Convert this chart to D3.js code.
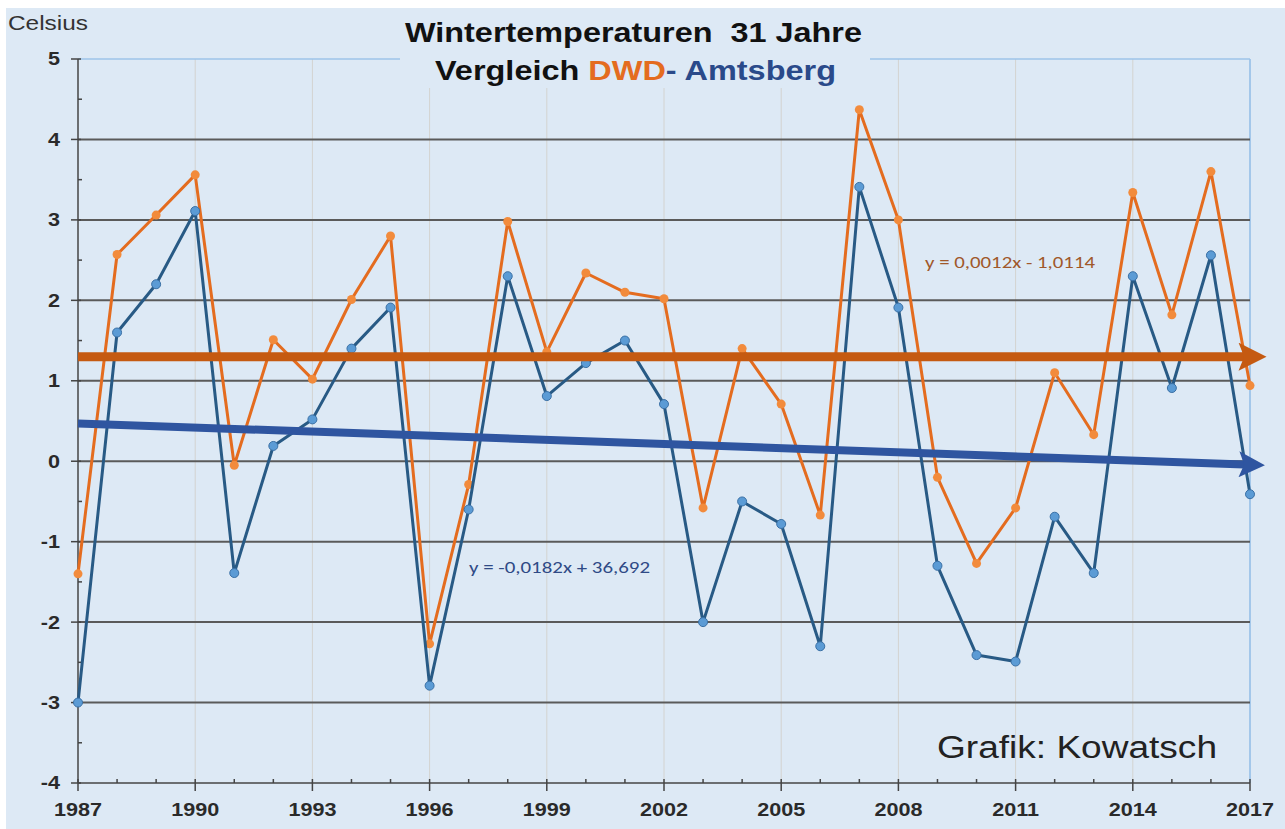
<!DOCTYPE html>
<html>
<head>
<meta charset="utf-8">
<script src="https://cdn.jsdelivr.net/npm/d3@7"></script>
<style>
  body { margin: 0; background: #fff; }
  svg { display: block; font-family: "Liberation Sans", Arial, sans-serif; }
</style>
</head>
<body>
<svg width="1285" height="829"></svg>
<script>
// winter temperatures, DWD vs Amtsberg
var years = d3.range(1987, 2018);
var dwd = [-1.40, 2.57, 3.06, 3.56, -0.05, 1.51, 1.02, 2.01, 2.80, -2.27,
           -0.29, 2.98, 1.36, 2.34, 2.10, 2.02, -0.58, 1.40, 0.71, -0.67,
           4.37, 3.00, -0.20, -1.27, -0.58, 1.10, 0.33, 3.34, 1.82, 3.60, 0.94];
var amtsberg = [-3.00, 1.60, 2.20, 3.11, -1.39, 0.19, 0.52, 1.40, 1.91, -2.79,
                -0.60, 2.30, 0.81, 1.22, 1.50, 0.71, -2.00, -0.50, -0.78, -2.30,
                3.41, 1.91, -1.30, -2.41, -2.49, -0.69, -1.39, 2.30, 0.91, 2.56, -0.41];
var xTicks = [1987, 1990, 1993, 1996, 1999, 2002, 2005, 2008, 2011, 2014, 2017];
var yTicks = [5, 4, 3, 2, 1, 0, -1, -2, -3, -4];
// hand drawn trend arrows: [start year, end year] and [start value, end value]
var arrowYears = [1987, 2016.85];
var dwdArrow = [1.30, 1.30];
var amtArrow = [0.47, -0.04];

var svg = d3.select("svg"),
    margin = {top: 59, right: 35, bottom: 46, left: 78},
    width = 1285 - margin.left - margin.right,
    height = 829 - margin.top - margin.bottom;

var x = d3.scaleLinear().domain([1987, 2017]).range([margin.left, margin.left + width]),
    y = d3.scaleLinear().domain([-4, 5]).range([margin.top + height, margin.top]);

var defs = svg.append("defs");
function marker(id, color, w, h) {
  defs.append("marker")
      .attr("id", id)
      .attr("viewBox", "0 0 10 10")
      .attr("refX", 2).attr("refY", 5)
      .attr("markerUnits", "userSpaceOnUse")
      .attr("markerWidth", w).attr("markerHeight", h)
      .attr("orient", "auto")
    .append("path")
      .attr("d", "M0,0 L10,5 L0,10 L2,5 Z")
      .attr("fill", color);
}
marker("arrO", "#c55a11", 34, 28);
marker("arrB", "#2f55a0", 30, 26);

// the source picture is stretched sideways, so text is widened a bit
var STRETCH = 1.2;

// background
svg.append("rect")
    .attr("x", 6).attr("y", 8)
    .attr("width", 1279).attr("height", 821)
    .attr("fill", "#dde9f5");

// vertical grid
svg.append("g").selectAll("line")
  .data(xTicks.slice(1))
  .enter().append("line")
    .attr("x1", function(d) { return x(d); })
    .attr("x2", function(d) { return x(d); })
    .attr("y1", y(5)).attr("y2", y(-4))
    .attr("stroke", function(d) { return d === 2017 ? "#8fbbe6" : "#d3d3d0"; })
    .attr("stroke-width", function(d) { return d === 2017 ? 1.5 : 1; });

// horizontal grid
svg.append("g").selectAll("line")
  .data(yTicks.filter(function(d) { return d !== -4; }))
  .enter().append("line")
    .attr("x1", x(1987)).attr("x2", x(2017))
    .attr("y1", function(d) { return y(d); })
    .attr("y2", function(d) { return y(d); })
    .attr("stroke", function(d) { return d === 5 ? "#9cc3e8" : "#5a5a5a"; })
    .attr("stroke-width", function(d) { return d === 5 ? 1.5 : 2; });

// y axis
var yAxis = svg.append("g")
    .attr("transform", "translate(" + x(1987) + ",0)");
yAxis.append("line")
    .attr("y1", y(5)).attr("y2", y(-4))
    .attr("stroke", "#444").attr("stroke-width", 1.5);
yAxis.selectAll(".maj")
  .data(yTicks)
  .enter().append("line")
    .attr("x1", -7).attr("x2", 3)
    .attr("y1", function(d) { return y(d); })
    .attr("y2", function(d) { return y(d); })
    .attr("stroke", "#444").attr("stroke-width", 1.5);
yAxis.selectAll(".min")
  .data(d3.range(-3.5, 5, 1))
  .enter().append("line")
    .attr("x1", 0).attr("x2", 4)
    .attr("y1", function(d) { return y(d); })
    .attr("y2", function(d) { return y(d); })
    .attr("stroke", "#444").attr("stroke-width", 1.5);
yAxis.selectAll("text")
  .data(yTicks)
  .enter().append("text")
    .attr("transform", function(d) { return "translate(-18," + y(d) + ") scale(" + STRETCH + ",1)"; })
    .attr("dy", "0.36em")
    .attr("text-anchor", "end")
    .style("font", "bold 18px 'Liberation Sans', Arial, sans-serif")
    .attr("fill", "#2a2a2a")
    .text(function(d) { return d; });

// x axis
var xAxis = svg.append("g")
    .attr("transform", "translate(0," + y(-4) + ")");
xAxis.append("line")
    .attr("x1", x(1987)).attr("x2", x(2017))
    .attr("stroke", "#444").attr("stroke-width", 1.5);
xAxis.selectAll(".min")
  .data(years)
  .enter().append("line")
    .attr("x1", function(d) { return x(d); })
    .attr("x2", function(d) { return x(d); })
    .attr("y1", -4)
    .attr("y2", function(d) { return (d - 1987) % 3 === 0 ? 8 : 0; })
    .attr("stroke", "#444").attr("stroke-width", 1.5);
xAxis.selectAll("text")
  .data(xTicks)
  .enter().append("text")
    .attr("transform", function(d) { return "translate(" + x(d) + ",33) scale(" + STRETCH + ",1)"; })
    .attr("text-anchor", "middle")
    .style("font", "bold 18px 'Liberation Sans', Arial, sans-serif")
    .attr("fill", "#2a2a2a")
    .text(function(d) { return d; });

// title box covers the top grid line
svg.append("rect")
    .attr("x", 400).attr("y", 8)
    .attr("width", 470).attr("height", 80)
    .attr("fill", "#dde9f5");

var title = svg.append("g")
    .style("font", "bold 28px 'Liberation Sans', Arial, sans-serif");
title.append("text")
    .attr("x", 405).attr("y", 42)
    .attr("textLength", 457)
    .attr("lengthAdjust", "spacingAndGlyphs")
    .attr("fill", "#111")
    .text("Wintertemperaturen\u00a0\u00a031 Jahre");
var t2 = title.append("text")
    .attr("x", 435).attr("y", 80)
    .attr("textLength", 401)
    .attr("lengthAdjust", "spacingAndGlyphs");
t2.append("tspan").attr("fill", "#111").text("Vergleich ");
t2.append("tspan").attr("fill", "#e46c1f").text("DWD");
t2.append("tspan").attr("fill", "#2a4a8a").text("- Amtsberg");

svg.append("text")
    .attr("x", 8).attr("y", 30)
    .attr("textLength", 80)
    .attr("lengthAdjust", "spacingAndGlyphs")
    .style("font", "21px 'Liberation Sans', Arial, sans-serif")
    .attr("fill", "#333")
    .text("Celsius");

// series lines
var line = d3.line()
    .x(function(d, i) { return x(years[i]); })
    .y(function(d) { return y(d); });

svg.append("path")
    .attr("d", line(dwd))
    .attr("fill", "none")
    .attr("stroke", "#e46c1f")
    .attr("stroke-width", 3)
    .attr("stroke-linejoin", "round");
svg.append("g").selectAll("circle")
  .data(dwd)
  .enter().append("circle")
    .attr("cx", function(d, i) { return x(years[i]); })
    .attr("cy", function(d) { return y(d); })
    .attr("r", 4.5)
    .attr("fill", "#f28b3c");

svg.append("path")
    .attr("d", line(amtsberg))
    .attr("fill", "none")
    .attr("stroke", "#285a85")
    .attr("stroke-width", 3)
    .attr("stroke-linejoin", "round");
svg.append("g").selectAll("circle")
  .data(amtsberg)
  .enter().append("circle")
    .attr("cx", function(d, i) { return x(years[i]); })
    .attr("cy", function(d) { return y(d); })
    .attr("r", 4.5)
    .attr("fill", "#5b9bd5")
    .attr("stroke", "#3a70a5")
    .attr("stroke-width", 1);

// trend arrows
var arrowLine = d3.line()
    .x(function(d, i) { return x(arrowYears[i]); })
    .y(function(d) { return y(d); });

svg.append("path")
    .attr("d", arrowLine(dwdArrow))
    .attr("stroke", "#c55a11")
    .attr("stroke-width", 9)
    .attr("fill", "none")
    .attr("marker-end", "url(#arrO)");

svg.append("path")
    .attr("d", arrowLine(amtArrow))
    .attr("stroke", "#2f55a0")
    .attr("stroke-width", 8)
    .attr("fill", "none")
    .attr("marker-end", "url(#arrB)");

// trend equations
svg.append("text")
    .attr("x", 925).attr("y", 268)
    .attr("textLength", 170)
    .attr("lengthAdjust", "spacingAndGlyphs")
    .style("font", "16px Carlito, 'Liberation Sans', sans-serif")
    .attr("fill", "#a0582a")
    .text("y = 0,0012x - 1,0114");
svg.append("text")
    .attr("x", 469).attr("y", 573)
    .attr("textLength", 181)
    .attr("lengthAdjust", "spacingAndGlyphs")
    .style("font", "16px Carlito, 'Liberation Sans', sans-serif")
    .attr("fill", "#2f4a86")
    .text("y = -0,0182x + 36,692");

svg.append("text")
    .attr("x", 937).attr("y", 758)
    .attr("textLength", 280)
    .attr("lengthAdjust", "spacingAndGlyphs")
    .style("font", "31px 'Liberation Sans', Arial, sans-serif")
    .attr("fill", "#222")
    .text("Grafik: Kowatsch");
</script>
</body>
</html>
